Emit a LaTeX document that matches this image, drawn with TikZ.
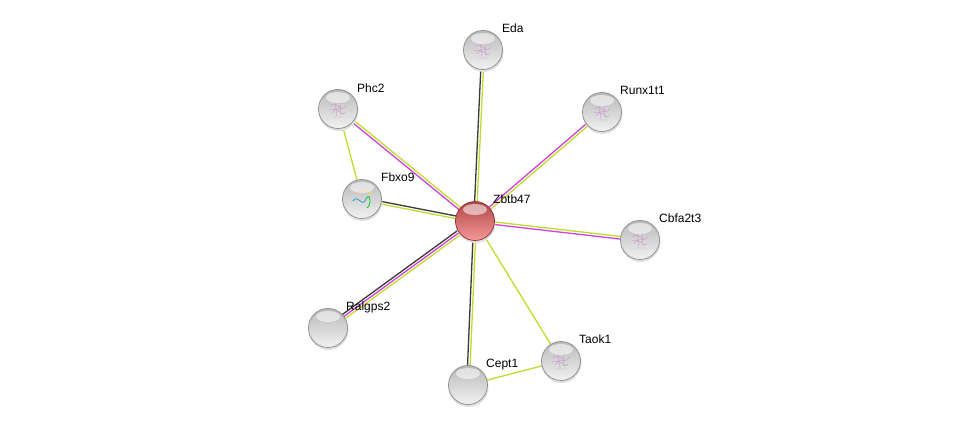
\documentclass[tikz,border=0pt]{standalone}
\usepackage{fontspec}
\setmainfont{Liberation Sans}
\usetikzlibrary{calc}
\definecolor{tm}{HTML}{C2DB2C}
\definecolor{ex}{HTML}{D23FD9}
\definecolor{co}{HTML}{3A3A3A}
\definecolor{gtop}{HTML}{B8B8B8}
\definecolor{gbot}{HTML}{F2F2F2}
\definecolor{grim}{HTML}{8A8A8A}
\definecolor{rtop}{HTML}{B04646}
\definecolor{rbot}{HTML}{F59898}
\definecolor{rrim}{HTML}{8A3030}
\tikzset{
  prot/.style={circle, minimum size=39pt, inner sep=0pt, top color=gtop, bottom color=gbot, draw=grim, line width=0.7pt},
  hub/.style={prot, top color=rtop, bottom color=rbot, draw=rrim},
  lbl/.style={anchor=base west, inner sep=0pt, font=\fontsize{12}{14}\selectfont},
  ln/.style={line width=1.3pt},
  hl/.style={fill=white, opacity=0.55},
  scrib/.style={draw=violet!40, line width=0.4pt}
}
\newcommand{\edg}[4]{\draw[ln,#4] ($(#1)!#3!90:(#2)$) -- ($(#2)!#3!-90:(#1)$);}
\newcommand{\hilite}[1]{\fill[hl] ($(#1)+(0,-11.5)$) ellipse (12 and 5.5);}
\newcommand{\scribble}[1]{\draw[scrib] ($(#1)+(-8,-3)$) .. controls ($(#1)+(-2,-10)$) and ($(#1)+(4,6)$) .. ($(#1)+(8,-4)$)
  ($(#1)+(-6,4)$) .. controls ($(#1)+(0,-6)$) and ($(#1)+(3,10)$) .. ($(#1)+(7,3)$)
  ($(#1)+(-3,-7)$) -- ($(#1)+(-1,7)$) ($(#1)+(2,-8)$) -- ($(#1)+(3,6)$)
  ($(#1)+(-9,1)$) -- ($(#1)+(6,-1)$) ($(#1)+(-5,8)$) -- ($(#1)+(5,8)$);}
\begin{document}
\begin{tikzpicture}[x=1pt,y=-1pt]
\useasboundingbox (0,0) rectangle (976,431);
\fill[white] (0,0) rectangle (976,431);
% coordinates
\coordinate (cZ) at (475,221);
\coordinate (cEda) at (483,50);
\coordinate (cRun) at (602,112);
\coordinate (cPhc) at (338,109);
\coordinate (cFbx) at (362,199);
\coordinate (cCbf) at (640,240);
\coordinate (cRal) at (328,328);
\coordinate (cCep) at (468,385);
\coordinate (cTao) at (561,361);
% edges
\edg{cZ}{cEda}{1.3pt}{co}
\edg{cZ}{cEda}{-1.3pt}{tm}
\edg{cZ}{cRun}{1.3pt}{ex}
\edg{cZ}{cRun}{-1.3pt}{tm}
\edg{cZ}{cPhc}{1.3pt}{ex}
\edg{cZ}{cPhc}{-1.3pt}{tm}
\edg{cZ}{cFbx}{1.3pt}{tm}
\edg{cZ}{cFbx}{-1.3pt}{co}
\edg{cZ}{cCbf}{1.3pt}{tm}
\edg{cZ}{cCbf}{-1.3pt}{ex}
\edg{cZ}{cRal}{2.5pt}{tm}
\edg{cZ}{cRal}{0pt}{ex}
\edg{cZ}{cRal}{-2.5pt}{co}
\edg{cZ}{cCep}{1.3pt}{tm}
\edg{cZ}{cCep}{-1.3pt}{co}
\edg{cZ}{cTao}{0pt}{tm}
\edg{cPhc}{cFbx}{0pt}{tm}
\edg{cCep}{cTao}{0pt}{tm}
% shadows
\foreach \c in {cZ,cEda,cRun,cPhc,cFbx,cCbf,cRal,cCep,cTao}{
  \fill[black!12] ($(\c)+(0.5,2)$) circle (20);
}
% nodes
\node[hub] (Z) at (cZ) {};
\node[prot] (Eda) at (cEda) {};
\node[prot] (Run) at (cRun) {};
\node[prot] (Phc) at (cPhc) {};
\node[prot] (Fbx) at (cFbx) {};
\node[prot] (Cbf) at (cCbf) {};
\node[prot] (Ral) at (cRal) {};
\node[prot] (Cep) at (cCep) {};
\node[prot] (Tao) at (cTao) {};
% structure hints
\scribble{Eda}
\scribble{Run}
\scribble{Phc}
\scribble{Cbf}
\scribble{Tao}
\draw[line width=0.8pt, cyan!60!teal] ($(Fbx)+(-9,2)$) .. controls ($(Fbx)+(-4,-6)$) and ($(Fbx)+(0,10)$) .. ($(Fbx)+(4,0)$);
\draw[line width=0.8pt, green!60!teal] ($(Fbx)+(4,0)$) .. controls ($(Fbx)+(8,-8)$) and ($(Fbx)+(10,6)$) .. ($(Fbx)+(5,9)$);
\draw[line width=0.8pt, orange!70] ($(Fbx)+(-5,-6)$) -- ($(Fbx)+(3,-8)$);
\draw[line width=0.8pt, yellow!80!orange] ($(Fbx)+(3,-8)$) -- ($(Fbx)+(9,-6)$);
% highlights
\foreach \n in {Z,Eda,Run,Phc,Fbx,Cbf,Ral,Cep,Tao}{ \hilite{\n} }
% labels
\node[lbl] (lEda) at (502,32) {Eda};
\node[lbl] (lRun) at (620,94) {Runx1t1};
\node[lbl] (lPhc) at (357,92) {Phc2};
\node[lbl] (lFbx) at (381,181) {Fbxo9};
\node[lbl] (lZ) at (493,203) {Zbtb47};
\node[lbl] (lCbf) at (659,222) {Cbfa2t3};
\node[lbl] (lRal) at (346,310) {Ralgps2};
\node[lbl] (lCep) at (486,367) {Cept1};
\node[lbl] (lTao) at (579,343) {Taok1};
\end{tikzpicture}
\end{document}
